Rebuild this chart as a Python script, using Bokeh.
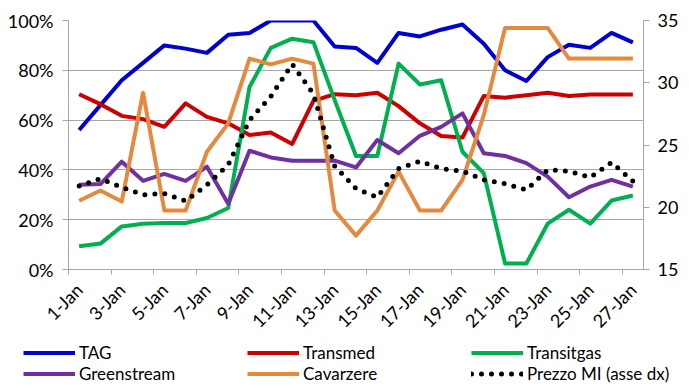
import math
from bokeh.plotting import figure
from bokeh.layouts import column
from bokeh.models import (Range1d, LinearAxis, FixedTicker, PrintfTickFormatter,
                          Legend, LegendItem)
from bokeh.embed import file_html
from bokeh.resources import INLINE

days = ["1-Jan", "2-Jan", "3-Jan", "4-Jan", "5-Jan", "6-Jan", "7-Jan", "8-Jan", "9-Jan",
        "10-Jan", "11-Jan", "12-Jan", "13-Jan", "14-Jan", "15-Jan", "16-Jan", "17-Jan",
        "18-Jan", "19-Jan", "20-Jan", "21-Jan", "22-Jan", "23-Jan", "24-Jan", "25-Jan",
        "26-Jan", "27-Jan"]

tag = [56, 66, 76, 83, 90, 88.7, 87, 94.3, 95, 100, 100, 100, 89.6, 89, 83, 95, 93.6,
       96.3, 98.4, 90.7, 80, 75.7, 85.3, 90.3, 89, 95, 91.2]
transmed = [70.4, 66.4, 61.7, 60.4, 57.3, 66.7, 61.3, 58.7, 54, 55, 50.4, 67.7, 70.4, 70,
            71, 65.6, 58.7, 53.6, 53, 69.7, 69, 70, 71, 69.7, 70.3, 70.3, 70.3]
transitgas = [9.3, 10.4, 17.3, 18.4, 18.7, 18.7, 20.7, 24.7, 73.3, 89, 92.7, 91.3, 68,
              45.6, 45.6, 82.7, 74.3, 76, 47.3, 38.7, 2.4, 2.4, 18.4, 24, 18.4, 27.7, 29.7]
greenstream = [34, 34.3, 43.3, 35.6, 38.4, 35.6, 41.3, 26.4, 47.7, 45, 43.7, 43.7, 43.7,
               41, 52, 46.7, 53.7, 57.3, 62.7, 46.7, 45.6, 42.7, 37.3, 29, 33.3, 36, 33.3]
cavarzere = [27.6, 31.7, 27.3, 71, 23.7, 23.7, 47.3, 58.7, 84.7, 82.4, 84.7, 82.7, 23.7,
             13.6, 23.7, 39.3, 23.7, 23.7, 36, 62, 97, 97, 97, 84.7, 84.7, 84.7, 84.7]
prezzo = [21.7, 22.3, 21.6, 21.0, 21.1, 20.5, 21.8, 23.4, 27.0, 28.9, 31.5, 29.1, 23.3,
          21.5, 20.8, 23.1, 23.7, 23.1, 22.9, 22.2, 21.9, 21.4, 23.0, 22.9, 22.4, 23.6, 22.1]

series_names = ["TAG", "Transmed", "Transitgas", "Greenstream", "Cavarzere",
                "Prezzo MI (asse dx)"]
left_ticks = [0, 20, 40, 60, 80, 100]
right_ticks = [15, 20, 25, 30, 35]

FONT = "Lato"
FS = "18px"
GRAY = "#A6A6A6"
W = 681

n = len(days)
x = list(range(n))

p = figure(width=W, height=342, output_backend="svg", toolbar_location=None,
           x_range=Range1d(-0.5, n - 0.5), y_range=Range1d(0, 100),
           min_border_left=68, min_border_right=38, min_border_top=20,
           min_border_bottom=72)
p.frame_align = False
p.outline_line_color = None
p.xgrid.grid_line_color = None
p.ygrid.ticker = FixedTicker(ticks=left_ticks)
p.ygrid.grid_line_color = GRAY
p.ygrid.grid_line_width = 1

xa = p.xaxis[0]
xa.ticker = FixedTicker(ticks=x[::2], minor_ticks=[i - 0.5 for i in x[::2]])
xa.major_label_overrides = {i: days[i] for i in x[::2]}
xa.major_label_orientation = math.pi / 4
xa.major_tick_line_color = None
xa.major_tick_out = 0
xa.major_tick_in = 0
xa.minor_tick_line_color = GRAY
xa.minor_tick_in = 0
xa.minor_tick_out = 5
xa.axis_line_color = GRAY
xa.major_label_text_font = FONT
xa.major_label_text_font_size = FS
xa.major_label_text_color = "black"
xa.major_label_standoff = 12

ya = p.yaxis[0]
ya.ticker = FixedTicker(ticks=left_ticks)
ya.formatter = PrintfTickFormatter(format="%d%%")
ya.axis_line_color = GRAY
ya.major_tick_line_color = GRAY
ya.major_tick_in = 0
ya.major_tick_out = 6
ya.minor_tick_line_color = None
ya.major_label_text_font = FONT
ya.major_label_text_font_size = FS
ya.major_label_text_color = "black"
ya.major_label_standoff = 9

p.extra_y_ranges = {"right": Range1d(15, 35)}
ra = LinearAxis(y_range_name="right", ticker=FixedTicker(ticks=right_ticks))
ra.axis_line_color = GRAY
ra.major_tick_line_color = GRAY
ra.major_tick_in = 0
ra.major_tick_out = 6
ra.minor_tick_line_color = None
ra.major_label_text_font = FONT
ra.major_label_text_font_size = FS
ra.major_label_text_color = "black"
ra.major_label_standoff = 8
p.add_layout(ra, "right")

styles = [
    dict(line_color="#0000D0", line_width=4, line_join="round"),
    dict(line_color="#CC0000", line_width=4, line_join="round"),
    dict(line_color="#00B050", line_width=4, line_join="round"),
    dict(line_color="#7030A0", line_width=4, line_join="round"),
    dict(line_color="#E4893E", line_width=4, line_join="round"),
    dict(line_color="black", line_width=5, line_dash="0 10", line_cap="round"),
]
data = [tag, transmed, transitgas, greenstream, cavarzere, prezzo]
for vals, st in zip(data, styles):
    if st["line_color"] == "black":
        p.line(x, vals, y_range_name="right", **st)
    else:
        p.line(x, vals, **st)

# legend in its own strip below the chart (its series lie outside its ranges)
lf = figure(width=W, height=42, output_backend="svg", toolbar_location=None,
            x_range=Range1d(-0.5, n - 0.5), y_range=Range1d(1000, 1001),
            x_axis_location=None, y_axis_location=None,
            min_border_left=0, min_border_right=0, min_border_top=0,
            min_border_bottom=0)
lf.frame_align = False
lf.outline_line_color = None
lf.grid.grid_line_color = None
items = []
for name, vals, st in zip(series_names, data, styles):
    r = lf.line(x, vals, **st)
    items.append(LegendItem(label=name, renderers=[r]))
legend = Legend(items=items, orientation="horizontal", ncols=3, location=(23, 0),
                glyph_width=52, glyph_height=21, label_height=21, label_width=168,
                label_standoff=4, spacing=0, padding=0, margin=0,
                border_line_color=None, background_fill_alpha=0,
                label_text_font=FONT, label_text_font_size="17px",
                label_text_color="black")
lf.add_layout(legend, "center")

open("out.html", "w").write(file_html(column(p, lf, spacing=0), INLINE))
